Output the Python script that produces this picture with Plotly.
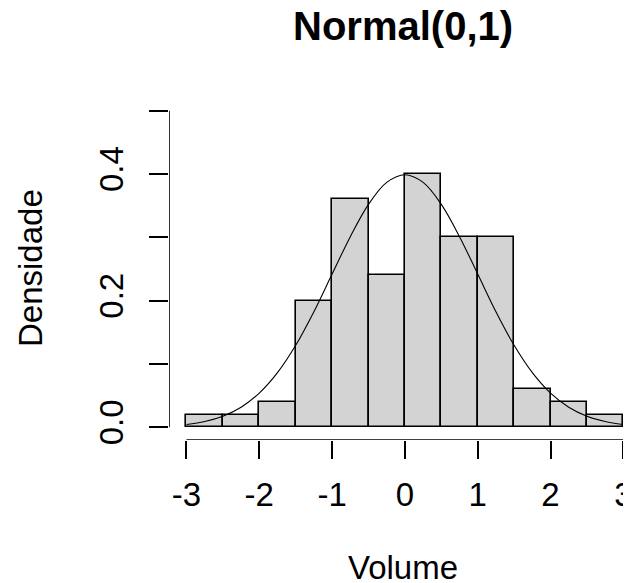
import plotly.graph_objects as go

# Histogram data (density, bin width 0.5)
bin_left = [-3.0, -2.5, -2.0, -1.5, -1.0, -0.5, 0.0, 0.5, 1.0, 1.5, 2.0, 2.5]
density = [0.02, 0.02, 0.04, 0.20, 0.36, 0.24, 0.40, 0.30, 0.30, 0.06, 0.04, 0.02]
bin_width = 0.5

# Normal(0,1) density curve
curve_x = [-3.0, -2.75, -2.5, -2.25, -2.0, -1.75, -1.5, -1.25, -1.0, -0.75, -0.5, -0.25, 0.0,
           0.25, 0.5, 0.75, 1.0, 1.25, 1.5, 1.75, 2.0, 2.25, 2.5, 2.75, 3.0]
curve_y = [0.0044, 0.0091, 0.0175, 0.0317, 0.0540, 0.0863, 0.1295, 0.1826, 0.2420, 0.3011, 0.3521, 0.3867, 0.3989,
           0.3867, 0.3521, 0.3011, 0.2420, 0.1826, 0.1295, 0.0863, 0.0540, 0.0317, 0.0175, 0.0091, 0.0044]

x_ticks = [-3, -2, -1, 0, 1, 2, 3]
x_ticktext = ["-3", "-2", "-1", "0", "1", "2", "3"]
y_ticks = [0.0, 0.1, 0.2, 0.3, 0.4, 0.5]
y_ticktext = ["0.0", "", "0.2", "", "0.4", ""]

FONT = "Liberation Sans, Arial, sans-serif"

# page has an 8px body margin: figure is 623x575 so it fills the window exactly
W, H = 623, 575
L, T, B = 161, 90, 143
PW, PH = W - L, H - T - B

fig = go.Figure()
fig.add_trace(go.Bar(
    x=[b + bin_width / 2 for b in bin_left], y=density, width=bin_width,
    marker=dict(color="#D3D3D3", line=dict(color="black", width=1.6)),
    hoverinfo="skip", showlegend=False,
))
fig.add_trace(go.Scatter(
    x=curve_x, y=curve_y, mode="lines", line=dict(color="black", width=1.1, shape="spline"),
    hoverinfo="skip", showlegend=False,
))

# R-style axis lines (only spanning the tick range)
fig.add_shape(type="line", xref="x", yref="y", x0=x_ticks[0], x1=x_ticks[-1], y0=-0.02, y1=-0.02,
              line=dict(color="black", width=1.6))
fig.add_shape(type="line", xref="x", yref="y", x0=-3.24, x1=-3.24, y0=y_ticks[0], y1=y_ticks[-1],
              line=dict(color="black", width=1.6))

def px_x(p):  # page pixel -> paper x
    return (p - 8 - L) / PW

def px_y(p):  # page pixel -> paper y
    return (H - B - (p - 8)) / PH

fig.update_layout(
    width=W, height=H,
    margin=dict(l=L, r=0, t=T, b=B, autoexpand=False),
    paper_bgcolor="white", plot_bgcolor="white",
    font=dict(family=FONT, color="black", size=33),
    bargap=0,
    xaxis=dict(range=[-3.24, 3.105], tickvals=x_ticks, ticktext=x_ticktext, showgrid=False,
               zeroline=False, showline=False, ticks="outside", ticklen=18, tickwidth=1.6,
               tickcolor="black", ticklabelstandoff=7, tickfont=dict(size=33), automargin=False,
               ticklabeloverflow="allow"),
    yaxis=dict(range=[-0.02, 0.52], tickvals=y_ticks, ticktext=y_ticktext, showgrid=False,
               zeroline=False, showline=False, ticks="outside", ticklen=19, tickwidth=1.6,
               tickcolor="black", tickangle=-90, ticklabelstandoff=13, tickfont=dict(size=33),
               automargin=False, ticklabeloverflow="allow"),
    annotations=[
        dict(text="<b>Normal(0,1)</b>", xref="paper", yref="paper", x=px_x(402.5), y=px_y(26),
             xanchor="center", yanchor="middle", showarrow=False, font=dict(size=40)),
        dict(text="Volume", xref="paper", yref="paper", x=px_x(402.5), y=px_y(567),
             xanchor="center", yanchor="middle", showarrow=False, font=dict(size=33)),
        dict(text="Densidade", xref="paper", yref="paper", x=px_x(30), y=px_y(268),
             xanchor="center", yanchor="middle", textangle=-90, showarrow=False, font=dict(size=33)),
    ],
)

fig.write_html("out.html")
